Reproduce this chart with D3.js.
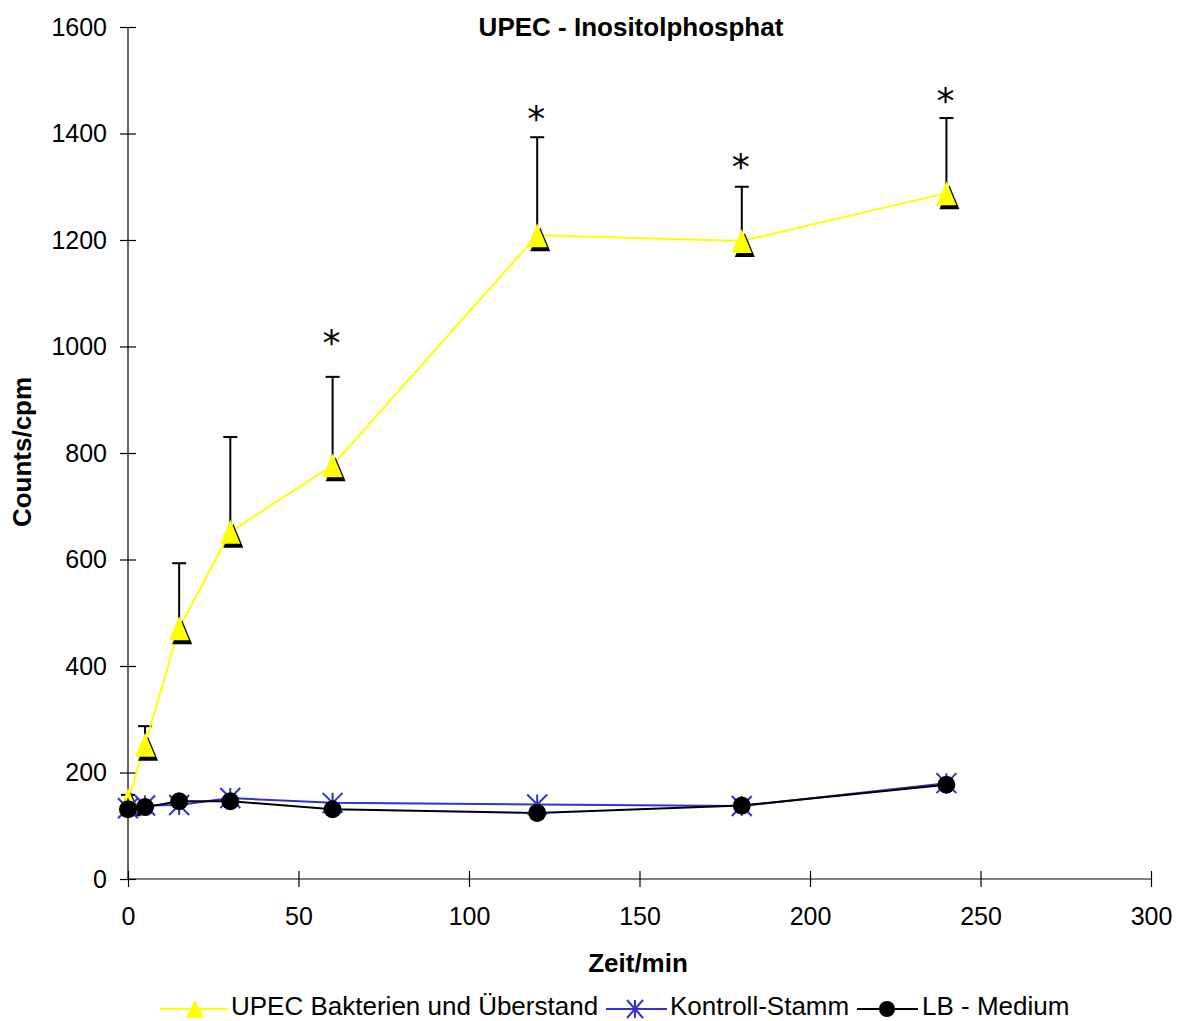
<!DOCTYPE html>
<html>
<head>
<meta charset="utf-8">
<script src="https://cdn.jsdelivr.net/npm/d3@7"></script>
<style>
body { margin: 0; background: #fff; }
svg { font-family: "Liberation Sans", Arial, sans-serif; }
</style>
</head>
<body>
<svg id="chart" width="1183" height="1021"></svg>
<script>
var times = [0, 5, 15, 30, 60, 120, 180, 240];
var upec = [148, 252, 471, 652, 777, 1209, 1198, 1288];
var upecErr = [10, 35, 122, 178, 166, 184, 102, 141];
var kontroll = [133, 138, 139, 152, 143, 140, 137, 180];
var lbMedium = [131, 135, 146, 146, 131, 124, 138, 177];
// level (in counts) where the significance asterisk sits, null = none
var sigLevel = [null, null, null, null, 1014, 1435, 1345, 1469];
var xTicks = [0, 50, 100, 150, 200, 250, 300];
var yTicks = [0, 200, 400, 600, 800, 1000, 1200, 1400, 1600];

var svg = d3.select("#chart");
var x = d3.scaleLinear().domain([0, 300]).range([128, 1151]);
var y = d3.scaleLinear().domain([0, 1600]).range([879, 27]);

// axes (ticks cross the axis line)
var yAxis = svg.append("g").attr("transform", "translate(128,0)")
    .call(d3.axisLeft(y).tickValues(yTicks).tickFormat(d3.format("d")).tickSize(8).tickPadding(13));
var xAxis = svg.append("g").attr("transform", "translate(0,879)")
    .call(d3.axisBottom(x).tickValues(xTicks).tickFormat(d3.format("d")).tickSize(8).tickPadding(20));
xAxis.selectAll(".tick line").attr("y1", -8);
yAxis.selectAll(".tick line").attr("x1", 8);
[yAxis, xAxis].forEach(function (a) {
    a.select(".domain").attr("stroke", "#000").attr("stroke-width", 1.2);
    a.selectAll(".tick line").attr("stroke", "#000").attr("stroke-width", 1.2);
    a.selectAll(".tick text").attr("font-size", 25).attr("fill", "#000")
        .attr("font-family", "Liberation Sans, Arial, sans-serif");
});
yAxis.select(".domain").attr("d", "M0,879V27");
xAxis.select(".domain").attr("d", "M128,0H1151");

// titles
svg.append("text").attr("x", 631).attr("y", 36).attr("text-anchor", "middle")
    .attr("font-size", 26).attr("font-weight", "bold").text("UPEC - Inositolphosphat");
svg.append("text").attr("x", 638).attr("y", 972).attr("text-anchor", "middle")
    .attr("font-size", 26).attr("font-weight", "bold").text("Zeit/min");
svg.append("text").attr("transform", "translate(31,452) rotate(-90)").attr("text-anchor", "middle")
    .attr("font-size", 26).attr("font-weight", "bold").text("Counts/cpm");

// markers
function triangle(g, cx, cy, shadow) {
    var p = function (dx, dy) {
        return "M" + (cx + dx) + "," + (cy - 12 + dy) + "L" + (cx + 10 + dx) + "," + (cy + 12 + dy) + "L" + (cx - 10 + dx) + "," + (cy + 12 + dy) + "Z";
    };
    if (shadow) g.append("path").attr("d", p(3, 4)).attr("fill", "#000");
    g.append("path").attr("d", p(0, 0)).attr("fill", "#ffff00");
}
function star(g, cx, cy, sx, sy) {
    g.append("path").attr("d", "M" + (cx - sx) + "," + (cy - sy) + "L" + (cx + sx) + "," + (cy + sy) +
        "M" + (cx + sx) + "," + (cy - sy) + "L" + (cx - sx) + "," + (cy + sy) +
        "M" + cx + "," + (cy - sy) + "L" + cx + "," + (cy + sy))
        .attr("stroke", "#3333cc").attr("stroke-width", 2).attr("fill", "none");
}
function dot(g, cx, cy, r) {
    g.append("circle").attr("cx", cx).attr("cy", cy).attr("r", r).attr("fill", "#000");
}

var line = d3.line().x(function (d) { return x(d[0]); }).y(function (d) { return y(d[1]); });

// error bars (upward only) and significance stars
var eb = svg.append("g");
times.forEach(function (t, i) {
    var top = y(upec[i] + upecErr[i]);
    eb.append("line").attr("x1", x(t)).attr("x2", x(t)).attr("y1", y(upec[i])).attr("y2", top)
        .attr("stroke", "#000").attr("stroke-width", 2);
    eb.append("line").attr("x1", x(t) - 7).attr("x2", x(t) + 7).attr("y1", top).attr("y2", top)
        .attr("stroke", "#000").attr("stroke-width", 2);
    if (sigLevel[i] != null) {
        svg.append("text").attr("x", x(t) - 1).attr("y", y(sigLevel[i]) + 16).attr("text-anchor", "middle")
            .attr("font-size", 36).attr("font-family", "DejaVu Sans, sans-serif").text("*");
    }
});

svg.append("path").datum(times.map(function (t, i) { return [t, upec[i]]; })).attr("d", line)
    .attr("fill", "none").attr("stroke", "#ffff00").attr("stroke-width", 2);
svg.append("path").datum(times.map(function (t, i) { return [t, kontroll[i]]; })).attr("d", line)
    .attr("fill", "none").attr("stroke", "#3333cc").attr("stroke-width", 2);
svg.append("path").datum(times.map(function (t, i) { return [t, lbMedium[i]]; })).attr("d", line)
    .attr("fill", "none").attr("stroke", "#000").attr("stroke-width", 2);

var mk = svg.append("g");
times.forEach(function (t, i) { triangle(mk, x(t), y(upec[i]), true); });
times.forEach(function (t, i) { star(mk, x(t), y(kontroll[i]), 10, 10); });
times.forEach(function (t, i) { dot(mk, x(t), y(lbMedium[i]), 9); });

// legend
var lg = svg.append("g");
var lgY = 1009;
lg.append("line").attr("x1", 160).attr("x2", 228).attr("y1", lgY).attr("y2", lgY).attr("stroke", "#ffff00").attr("stroke-width", 2);
lg.append("path").attr("d", "M195," + (lgY - 9) + "L204," + (lgY + 9) + "L186," + (lgY + 9) + "Z").attr("fill", "#ffff00");
lg.append("text").attr("x", 231).attr("y", lgY + 6).attr("font-size", 26).text("UPEC Bakterien und Überstand");
lg.append("line").attr("x1", 606).attr("x2", 667).attr("y1", lgY).attr("y2", lgY).attr("stroke", "#3333cc").attr("stroke-width", 2);
star(lg, 635, lgY, 8, 9);
lg.append("text").attr("x", 670).attr("y", lgY + 6).attr("font-size", 26).text("Kontroll-Stamm");
lg.append("line").attr("x1", 857).attr("x2", 918).attr("y1", lgY).attr("y2", lgY).attr("stroke", "#000").attr("stroke-width", 2);
dot(lg, 887, lgY, 8);
lg.append("text").attr("x", 922).attr("y", lgY + 6).attr("font-size", 26).text("LB - Medium");
</script>
</body>
</html>
